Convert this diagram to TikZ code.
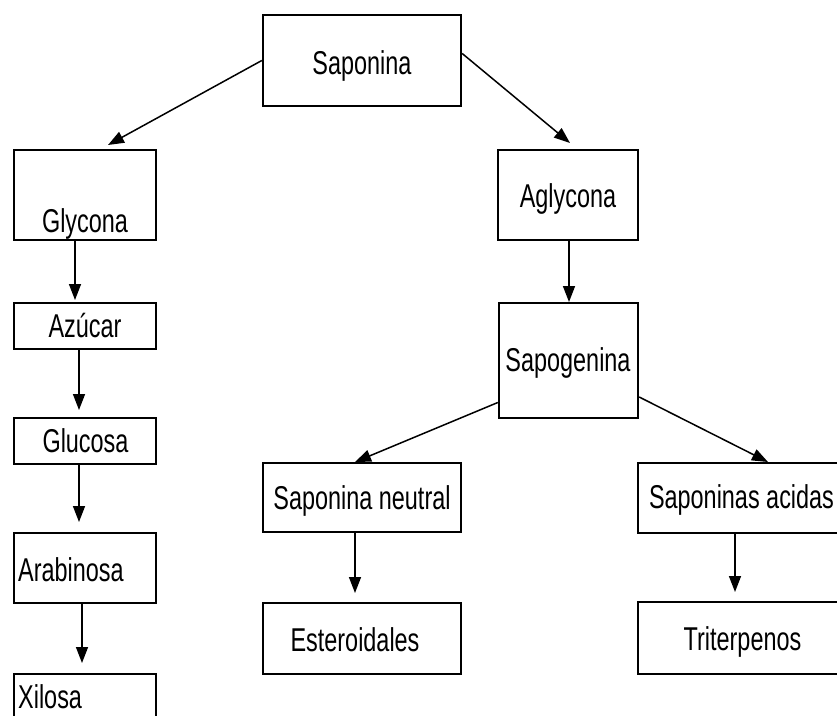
\documentclass[tikz,border=0pt]{standalone}
\usepackage{fontspec}
\setmainfont{Liberation Sans}[FakeStretch=0.71]
\usetikzlibrary{arrows.meta}
\begin{document}
\begin{tikzpicture}[x=1pt,y=-1pt,
  box/.style={draw, line width=2.4pt, inner sep=0pt},
  lbl/.style={font=\fontsize{33}{38}\selectfont, inner sep=0pt, anchor=base},
  conn/.style={line width=1.5pt, -{Triangle[length=16pt,width=12pt]}}]
\fill[white] (0,0) rectangle (837,715);
\useasboundingbox (0,0) rectangle (837,715);
\clip (0,0) rectangle (837,715);
% boxes
\node[box, minimum width=198pt, minimum height=91pt] (sap) at (362,60.5) {};
\node[box, minimum width=142pt, minimum height=90pt] (gly) at (85,195) {};
\node[box, minimum width=140pt, minimum height=90pt] (agl) at (568,195) {};
\node[box, minimum width=142pt, minimum height=46pt] (azu) at (85,326) {};
\node[box, minimum width=142pt, minimum height=46pt] (glu) at (85,441) {};
\node[box, minimum width=142pt, minimum height=70pt] (ara) at (85,568) {};
\node[box, minimum width=142pt, minimum height=56pt] (xil) at (85,702) {};
\node[box, minimum width=139pt, minimum height=115pt] (sapg) at (568.5,360.5) {};
\node[box, minimum width=198pt, minimum height=69pt] (neu) at (362,497.5) {};
\node[box, minimum width=205pt, minimum height=70pt] (aci) at (740.5,498) {};
\node[box, minimum width=198pt, minimum height=71pt] (est) at (362,638.5) {};
\node[box, minimum width=205pt, minimum height=72pt] (tri) at (740.5,638) {};
% texts
\node[lbl] (sapt) at (362,74) {Saponina};
\node[lbl] (glyt) at (85,232) {Glycona};
\node[lbl] (aglt) at (568,207) {Aglycona};
\node[lbl] (azut) at (85,337) {Azúcar};
\node[lbl] (glut) at (85.5,452.7) {Glucosa};
\node[lbl, anchor=base west] (arat) at (18,581) {Arabinosa};
\node[lbl, anchor=base west] (xilt) at (18,708) {Xilosa};
\node[lbl] (sapgt) at (568,371.7) {Sapogenina};
\node[lbl] (neut) at (362,509) {Saponina neutral};
\node[lbl] (acit) at (741.5,508) {Saponinas acidas};
\node[lbl] (estt) at (355,651.7) {Esteroidales};
\node[lbl] (trit) at (742.5,650) {Triterpenos};
% arrow tips
\coordinate (c1) at (108,145);
\coordinate (c2) at (570,143);
\coordinate (c3) at (75,300);
\coordinate (c4) at (79,410);
\coordinate (c5) at (79,522);
\coordinate (c6) at (82,663);
\coordinate (c7) at (569,302);
\coordinate (c8) at (355,462);
\coordinate (c9) at (768,462);
\coordinate (c10) at (355,593);
\coordinate (c11) at (735,592);
% connectors
\draw[conn] (sap.west) -- (c1);
\draw[conn] ([yshift=7pt]sap.east) -- (c2);
\draw[conn] (gly.south -| c3) -- (c3);
\draw[conn] (azu.south -| c4) -- (c4);
\draw[conn] (glu.south -| c5) -- (c5);
\draw[conn] (ara.south -| c6) -- (c6);
\draw[conn] (agl.south -| c7) -- (c7);
\draw[conn] ([yshift=-42pt]sapg.west) -- (c8);
\draw[conn] ([yshift=-36.5pt]sapg.east) -- (c9);
\draw[conn] (neu.south -| c10) -- (c10);
\draw[conn] (aci.south -| c11) -- (c11);
\end{tikzpicture}
\end{document}
